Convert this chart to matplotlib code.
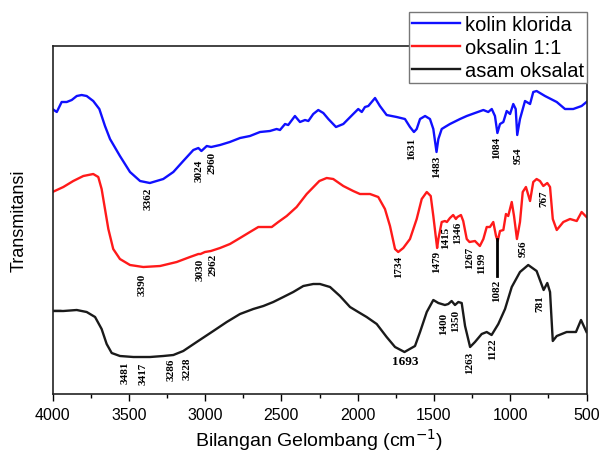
import matplotlib.pyplot as plt
from matplotlib.ticker import MultipleLocator

# FTIR spectra (wavenumber in cm-1, transmittance in arbitrary offset units)
wn_kolin = [4000, 3972, 3940, 3907, 3874, 3841, 3809, 3776, 3733, 3693, 3656, 3623,
            3558, 3492, 3426, 3362, 3274, 3208, 3143, 3077, 3044, 3024, 2989, 2960,
            2902, 2838, 2771, 2706, 2640, 2575, 2531, 2509, 2476, 2455, 2411, 2378,
            2345, 2323, 2291, 2258, 2225, 2192, 2142, 2094, 2029, 1996, 1973, 1952,
            1930, 1886, 1854, 1810, 1744, 1690, 1657, 1631, 1613, 1591, 1558, 1526,
            1504, 1483, 1471, 1449, 1428, 1395, 1329, 1285, 1231, 1176, 1144, 1121,
            1100, 1084, 1067, 1045, 1023, 1001, 980, 964, 954, 936, 903, 870, 849,
            827, 772, 695, 641, 587, 532, 500]
t_kolin = [285, 282, 292, 292, 294, 298, 299, 298, 293, 285, 268, 255,
           238, 222, 213, 211, 215, 222, 233, 244, 246, 243, 248, 247,
           249, 252, 256, 258, 262, 263, 265, 264, 270, 269, 278, 272,
           274, 273, 280, 284, 281, 275, 267, 270, 280, 285, 282, 287,
           288, 296, 288, 279, 277, 275, 267, 262, 265, 275, 278, 275,
           265, 242, 255, 265, 267, 270, 275, 278, 281, 284, 282, 285,
           278, 261, 270, 272, 283, 280, 290, 285, 259, 275, 293, 290, 302,
           303, 298, 292, 285, 285, 288, 292]

wn_oksalin = [4000, 3929, 3864, 3798, 3733, 3700, 3678, 3656, 3634, 3602, 3558, 3492,
              3405, 3295, 3186, 3099, 3044, 3030, 3001, 2962, 2902, 2837, 2771, 2706,
              2651, 2618, 2563, 2520, 2465, 2400, 2334, 2251, 2203, 2160, 2094, 2029,
              1985, 1919, 1865, 1821, 1788, 1755, 1734, 1701, 1657, 1613, 1580, 1547,
              1521, 1504, 1479, 1471, 1449, 1428, 1415, 1395, 1374, 1356, 1346, 1323,
              1308, 1285, 1267, 1231, 1199, 1176, 1154, 1133, 1111, 1093, 1082, 1067,
              1045, 1028, 1013, 990, 975, 956, 936, 918, 897, 870, 849, 827, 805,
              783, 757, 739, 721, 695, 652, 608, 564, 532, 500]
t_oksalin = [202, 207, 213, 218, 220, 217, 205, 185, 165, 145, 135, 129,
             127, 128, 132, 137, 140, 140, 142, 143, 146, 150, 156, 162,
             167, 167, 167, 172, 178, 187, 200, 213, 216, 215, 208, 203,
             200, 200, 197, 185, 168, 145, 142, 146, 155, 175, 195, 202,
             198, 178, 146, 155, 172, 173, 172, 176, 179, 175, 177, 179,
             173, 155, 152, 153, 148, 155, 167, 167, 172, 158, 153, 163,
             164, 180, 178, 192, 178, 155, 172, 202, 207, 193, 212, 215, 213,
             208, 211, 207, 175, 164, 172, 175, 173, 182, 177]

wn_asam = [4000, 3929, 3841, 3776, 3721, 3678, 3645, 3612, 3558, 3470, 3361, 3274,
           3208, 3143, 3055, 2946, 2858, 2771, 2684, 2618, 2553, 2487, 2422, 2356,
           2291, 2247, 2181, 2116, 2050, 1996, 1941, 1875, 1810, 1755, 1693, 1624,
           1591, 1547, 1504, 1471, 1428, 1406, 1384, 1362, 1340, 1318, 1296, 1263,
           1231, 1187, 1154, 1122, 1078, 1034, 990, 936, 882, 827, 781, 757, 739,
           721, 695, 630, 569, 536, 500]
t_asam = [83, 83, 84, 82, 77, 65, 50, 41, 38, 37, 37, 38,
          39, 43, 52, 63, 72, 80, 85, 88, 92, 97, 102, 108,
          110, 110, 107, 98, 87, 82, 77, 70, 57, 47, 42, 48,
          62, 82, 94, 91, 89, 90, 93, 89, 92, 91, 68, 47,
          52, 60, 62, 59, 70, 85, 107, 122, 129, 123, 104, 111, 102,
          53, 58, 62, 62, 74, 62]

# peak labels: (text, wavenumber, transmittance)
peaks_kolin = [("3362", 3374, 196), ("3024", 3040, 224), ("2960", 2955, 232),
               ("1631", 1644, 246), ("1483", 1480, 228), ("1084", 1087, 247),
               ("954", 949, 239)]
peaks_oksalin = [("3390", 3413, 110), ("3030", 3033, 125), ("2962", 2948, 130),
                 ("1734", 1729, 128), ("1479", 1480, 133), ("1415", 1422, 157),
                 ("1346", 1343, 162), ("1267", 1264, 137), ("1199", 1185, 132),
                 ("1082", 1087, 104), ("956", 916, 146), ("767", 779, 196)]
peaks_asam = [("3481", 3525, 22), ("3417", 3407, 21), ("3286", 3223, 25),
              ("3228", 3118, 26), ("1400", 1434, 71), ("1350", 1355, 74),
              ("1263", 1264, 32), ("1122", 1113, 46), ("781", 805, 91)]

fig = plt.figure(figsize=(6, 4.52), dpi=100)
ax = fig.add_axes([0.0875, 0.1261, 0.89, 0.7699])

ax.plot(wn_kolin, t_kolin, color='#1010ff', lw=1.7, label='kolin klorida')
ax.plot(wn_oksalin, t_oksalin, color='#ff1a1a', lw=1.7, label='oksalin 1:1')
ax.plot(wn_asam, t_asam, color='#1a1a1a', lw=1.7, label='asam oksalat')

lab_font = dict(family='Liberation Serif', weight='bold', size=8)
for txt, x, y in peaks_kolin + peaks_oksalin + peaks_asam:
    ax.text(x, y, txt, rotation=90, ha='center', va='center', **lab_font)
ax.text(1690, 33, "1693", ha='center', va='center',
        family='Liberation Serif', weight='bold', size=9.5)
ax.plot([1087, 1087], [118, 155], color='k', lw=2)

ax.set_xlim(4000, 500)
ax.set_ylim(0, 348)
ax.xaxis.set_major_locator(MultipleLocator(500))
ax.xaxis.set_minor_locator(MultipleLocator(250))
ax.tick_params(axis='x', which='major', direction='out', length=5, width=1,
               labelsize=11.5, pad=4)
ax.tick_params(axis='x', which='minor', direction='out', length=3, width=1)
ax.set_yticks([84])
ax.tick_params(axis='y', direction='in', length=6, width=1, labelleft=False)
for s in ax.spines.values():
    s.set_linewidth(1.2)
    s.set_color('#222222')
for t in ax.get_xticklabels():
    t.set_family('Liberation Sans')

ax.set_xlabel('Bilangan Gelombang (cm$^{-1}$)', family='Liberation Sans',
              fontsize=14, labelpad=3)
ax.set_ylabel('Transmitansi', family='Liberation Sans', fontsize=13, labelpad=18)

leg = fig.legend(loc='upper right', bbox_to_anchor=(587 / 600, 1 - 13 / 452),
                 prop={'family': 'Liberation Sans', 'size': 14.5},
                 handlelength=2.35, handletextpad=0.25, labelspacing=0.2,
                 borderpad=0.15, borderaxespad=0, fancybox=False, framealpha=1)
leg.get_frame().set_edgecolor('#777777')
leg.get_frame().set_linewidth(1.0)

fig.savefig('out.png', dpi=100)
